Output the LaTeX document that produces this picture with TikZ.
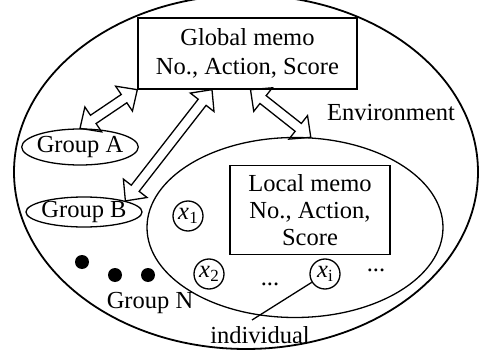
\documentclass[tikz,border=0pt]{standalone}
\usepackage{fontspec}
\setmainfont{Liberation Serif}
\usetikzlibrary{calc,shapes.geometric}
\newcommand\hollowarrow[2]{%
  \path let \p1=(#1), \p2=(#2) in \pgfextra{%
    \pgfmathsetmacro\hAang{atan2(\y2-\y1,\x2-\x1)}%
    \pgfmathsetmacro\hAlen{veclen(\x2-\x1,\y2-\y1)}%
    \xdef\hAang{\hAang}\xdef\hAlen{\hAlen}%
    \xdef\hAx{\x1}\xdef\hAy{\y1}};
  \draw[hollow, shift={(\hAx,\hAy)}, rotate=\hAang]
    (0,0) -- (16,15) -- (16,5) -- ({\hAlen-16},5) -- ({\hAlen-16},15) -- (\hAlen,0)
    -- ({\hAlen-16},-15) -- ({\hAlen-16},-5) -- (16,-5) -- (16,-15) -- cycle;}
\newcommand\xsub[1]{{\itshape x}\kern0.3pt\raisebox{-3.5pt}{\fontsize{17}{17}\selectfont #1}}
\begin{document}
\begin{tikzpicture}[x=1pt,y=-1pt, line width=1.3pt,
  font=\fontsize{24.5}{29}\selectfont,
  hollow/.style={draw, line width=1.3pt, line join=miter},
  grp/.style={draw, ellipse, inner sep=-2pt},
  ind/.style={draw, circle, inner sep=0pt, minimum size=30},
  bigdot/.style={circle, fill=black, inner sep=0pt, minimum size=14},
  memo/.style={draw, align=center, inner sep=0pt}]
\useasboundingbox (0,0) rectangle (491,356);
\node[draw, ellipse, minimum width=464, minimum height=354, line width=1.8pt] (env) at (246,172) {};
\node[memo, minimum width=219, minimum height=71] (glob) at (247.5,53.5) {Global memo\\No., Action, Score};
\node (envlabel) at (391,113) {Environment};
\node[draw, ellipse, minimum width=296, minimum height=180] (loc) at (295,227.5) {};
\node[memo, minimum width=160, minimum height=89, font=\fontsize{24.5}{27}\selectfont] (lmemo) at (310,210) {Local memo\\No., Action,\\Score};
\node[grp, minimum width=116, minimum height=36] (gA) at (80,147) {Group A};
\node[grp, minimum width=116, minimum height=30] (gB) at (84,212) {Group B};
\node[bigdot] (d1) at (82,262) {};
\node[bigdot] (d2) at (115,275) {};
\node[bigdot] (d3) at (148,275) {};
\node (gN) at (150,303) {Group N};
\node[ind] (x1) at (188,216) {\xsub{1}};
\node[ind] (x2) at (209,274) {\xsub{2}};
\node[ind] (xi) at (325,274) {\xsub{i}};
\node (dotsA) at (270,284) {...};
\node (dotsB) at (376,270) {...};
\node (indlabel) at (260,335) {individual};
\coordinate (indtip) at (252,320);
\draw (xi) -- (indtip);
\coordinate (a2top) at ($(glob.south)+(-35.5,0)$);
\coordinate (a3top) at ($(glob.south)+(3,0)$);
\hollowarrow{gA.north}{glob.south west}
\hollowarrow{gB.15}{a2top}
\hollowarrow{a3top}{loc.80}
\end{tikzpicture}
\end{document}
